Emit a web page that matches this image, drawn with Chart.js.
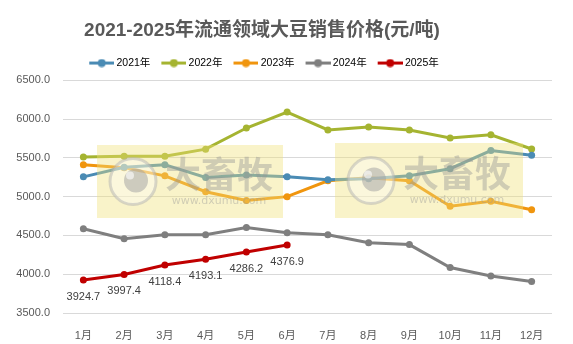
<!DOCTYPE html>
<html>
<head>
<meta charset="utf-8">
<script src="https://cdn.jsdelivr.net/npm/chart.js@4/dist/chart.umd.min.js"></script>
<style>
  html, body { margin: 0; padding: 0; background: #fff; }
  canvas { display: block; }
</style>
</head>
<body>
<canvas id="visual" width="573" height="344"></canvas>
<script>
const months = ['1月', '2月', '3月', '4月', '5月', '6月', '7月', '8月', '9月', '10月', '11月', '12月'];
const years = ['2021年', '2022年', '2023年', '2024年', '2025年'];
const price2021 = [5255, 5380, 5412, 5247, 5280, 5255, 5218, 5232, 5270, 5360, 5594, 5534];
const price2022 = [5510, 5522, 5522, 5612, 5885, 6090, 5860, 5897, 5860, 5756, 5798, 5614];
const price2023 = [5410, 5374, 5268, 5064, 4950, 5000, 5205, 5244, 5205, 4876, 4940, 4830];
const price2024 = [4586, 4458, 4509, 4509, 4603, 4535, 4509, 4406, 4382, 4086, 3978, 3906];
const price2025 = [3924.7, 3997.4, 4118.4, 4193.1, 4286.2, 4376.9];
const yTicks = [3500, 4000, 4500, 5000, 5500, 6000, 6500];

const colors = ['#4a8bb4', '#a5b431', '#f0950e', '#7f7f7f', '#c00000'];
const series = [price2021, price2022, price2023, price2024, price2025];

Chart.defaults.font.family = "'Liberation Sans', 'Noto Sans CJK SC', sans-serif";
Chart.defaults.color = '#595959';

// legend marker: short line with a dot in the middle (shifted right so
// the text sits close to it)
const legendMarker = (color) => {
  const c = document.createElement('canvas');
  c.width = 32;
  c.height = 9;
  const g = c.getContext('2d');
  g.strokeStyle = color;
  g.lineWidth = 3;
  g.beginPath();
  g.moveTo(7, 4.5);
  g.lineTo(32, 4.5);
  g.stroke();
  g.fillStyle = color;
  g.beginPath();
  g.arc(19.5, 4.5, 4, 0, Math.PI * 2);
  g.fill();
  return c;
};

// the two faint site watermarks laid over the plot
const stamps = [
  {x: 97, y: 145, w: 186, h: 73},
  {x: 335, y: 143, w: 188, h: 75},
];
const watermark = {
  id: 'watermark',
  afterDatasetsDraw(chart) {
    const ctx = chart.ctx;
    ctx.save();
    stamps.forEach((s) => {
      ctx.fillStyle = 'rgba(240,225,120,0.40)';
      ctx.fillRect(s.x, s.y, s.w, s.h);
      const cx = s.x + 36;
      const cy = s.y + s.h / 2;
      ctx.fillStyle = 'rgba(255,255,255,0.35)';
      ctx.beginPath();
      ctx.arc(cx, cy, 23, 0, Math.PI * 2);
      ctx.fill();
      ctx.strokeStyle = 'rgba(180,180,180,0.5)';
      ctx.lineWidth = 3;
      ctx.stroke();
      ctx.fillStyle = 'rgba(160,160,160,0.5)';
      ctx.beginPath();
      ctx.arc(cx + 3, cy - 1, 12, 0, Math.PI * 2);
      ctx.fill();
      ctx.fillStyle = 'rgba(255,255,255,0.6)';
      ctx.beginPath();
      ctx.arc(cx - 3, cy - 6, 4, 0, Math.PI * 2);
      ctx.fill();
      ctx.fillStyle = 'rgba(150,150,150,0.42)';
      ctx.textAlign = 'center';
      ctx.textBaseline = 'middle';
      ctx.font = "bold 36px 'Noto Sans CJK SC'";
      ctx.fillText('大畜牧', s.x + 122, cy - 7);
      ctx.font = "11px 'DejaVu Sans'";
      ctx.fillText('www.dxumu.com', s.x + 122, cy + 20);
    });
    ctx.restore();
  },
};

// value labels under the 2025 points
const pointLabels = {
  id: 'pointLabels',
  afterDatasetsDraw(chart) {
    const ctx = chart.ctx;
    const meta = chart.getDatasetMeta(4);
    ctx.save();
    ctx.fillStyle = '#404040';
    ctx.font = "11px 'Liberation Sans'";
    ctx.textAlign = 'center';
    ctx.textBaseline = 'middle';
    meta.data.forEach((pt, i) => {
      ctx.fillText(price2025[i].toFixed(1), pt.x, pt.y + 17);
    });
    ctx.restore();
  },
};

// title and legend sit a bit left of the canvas centre in the original,
// and the legend a little closer to the title
const shiftHeader = {
  id: 'shiftHeader',
  afterLayout(chart) {
    if (chart.titleBlock) {
      chart.titleBlock.right -= 28;
    }
    if (chart.legend) {
      chart.legend.right -= 28;
      chart.legend.top -= 2;
      chart.legend.bottom -= 2;
    }
  },
};

const chart = new Chart('visual', {
  type: 'line',
  data: {
    labels: months,
    datasets: years.map((name, i) => ({
      label: name,
      data: series[i],
      borderColor: colors[i],
      backgroundColor: colors[i],
      borderWidth: 3,
      pointRadius: 3.5,
      pointBorderWidth: 0,
      pointBackgroundColor: colors[i],
      tension: 0,
    })),
  },
  options: {
    responsive: false,
    animation: false,
    devicePixelRatio: 1,
    layout: {padding: {left: 0, right: 21, top: 0, bottom: 0}},
    plugins: {
      title: {
        display: true,
        text: '2021-2025年流通领域大豆销售价格(元/吨)',
        color: '#595959',
        font: {size: 19, weight: 'bold'},
        padding: {top: 19, bottom: 11},
      },
      legend: {
        display: true,
        labels: {
          usePointStyle: true,
          pointStyleWidth: 26,
          padding: 7,
          color: '#595959',
          font: {size: 10.5},
          generateLabels: (c) => c.data.datasets.map((ds, i) => ({
            text: ds.label,
            pointStyle: legendMarker(colors[i]),
            fillStyle: colors[i],
            strokeStyle: colors[i],
            lineWidth: 0,
            datasetIndex: i,
          })),
        },
      },
      tooltip: {enabled: false},
    },
    scales: {
      x: {
        offset: true,
        grid: {display: false},
        border: {display: false},
        ticks: {padding: 8, color: '#595959', font: {size: 11}},
        afterFit: (scale) => {
          scale.height = 31;
        },
      },
      y: {
        min: 3500,
        max: 6500,
        afterBuildTicks: (scale) => {
          scale.ticks = yTicks.map((v) => ({value: v}));
        },
        grid: {color: '#d9d9d9', drawTicks: false, lineWidth: 1},
        border: {display: false},
        ticks: {
          padding: 13,
          color: '#595959',
          font: {size: 11},
          callback: (v) => Number(v).toFixed(1),
        },
        afterFit: (scale) => {
          scale.width = 63;
        },
      },
    },
  },
  plugins: [watermark, pointLabels, shiftHeader],
});
</script>
</body>
</html>
